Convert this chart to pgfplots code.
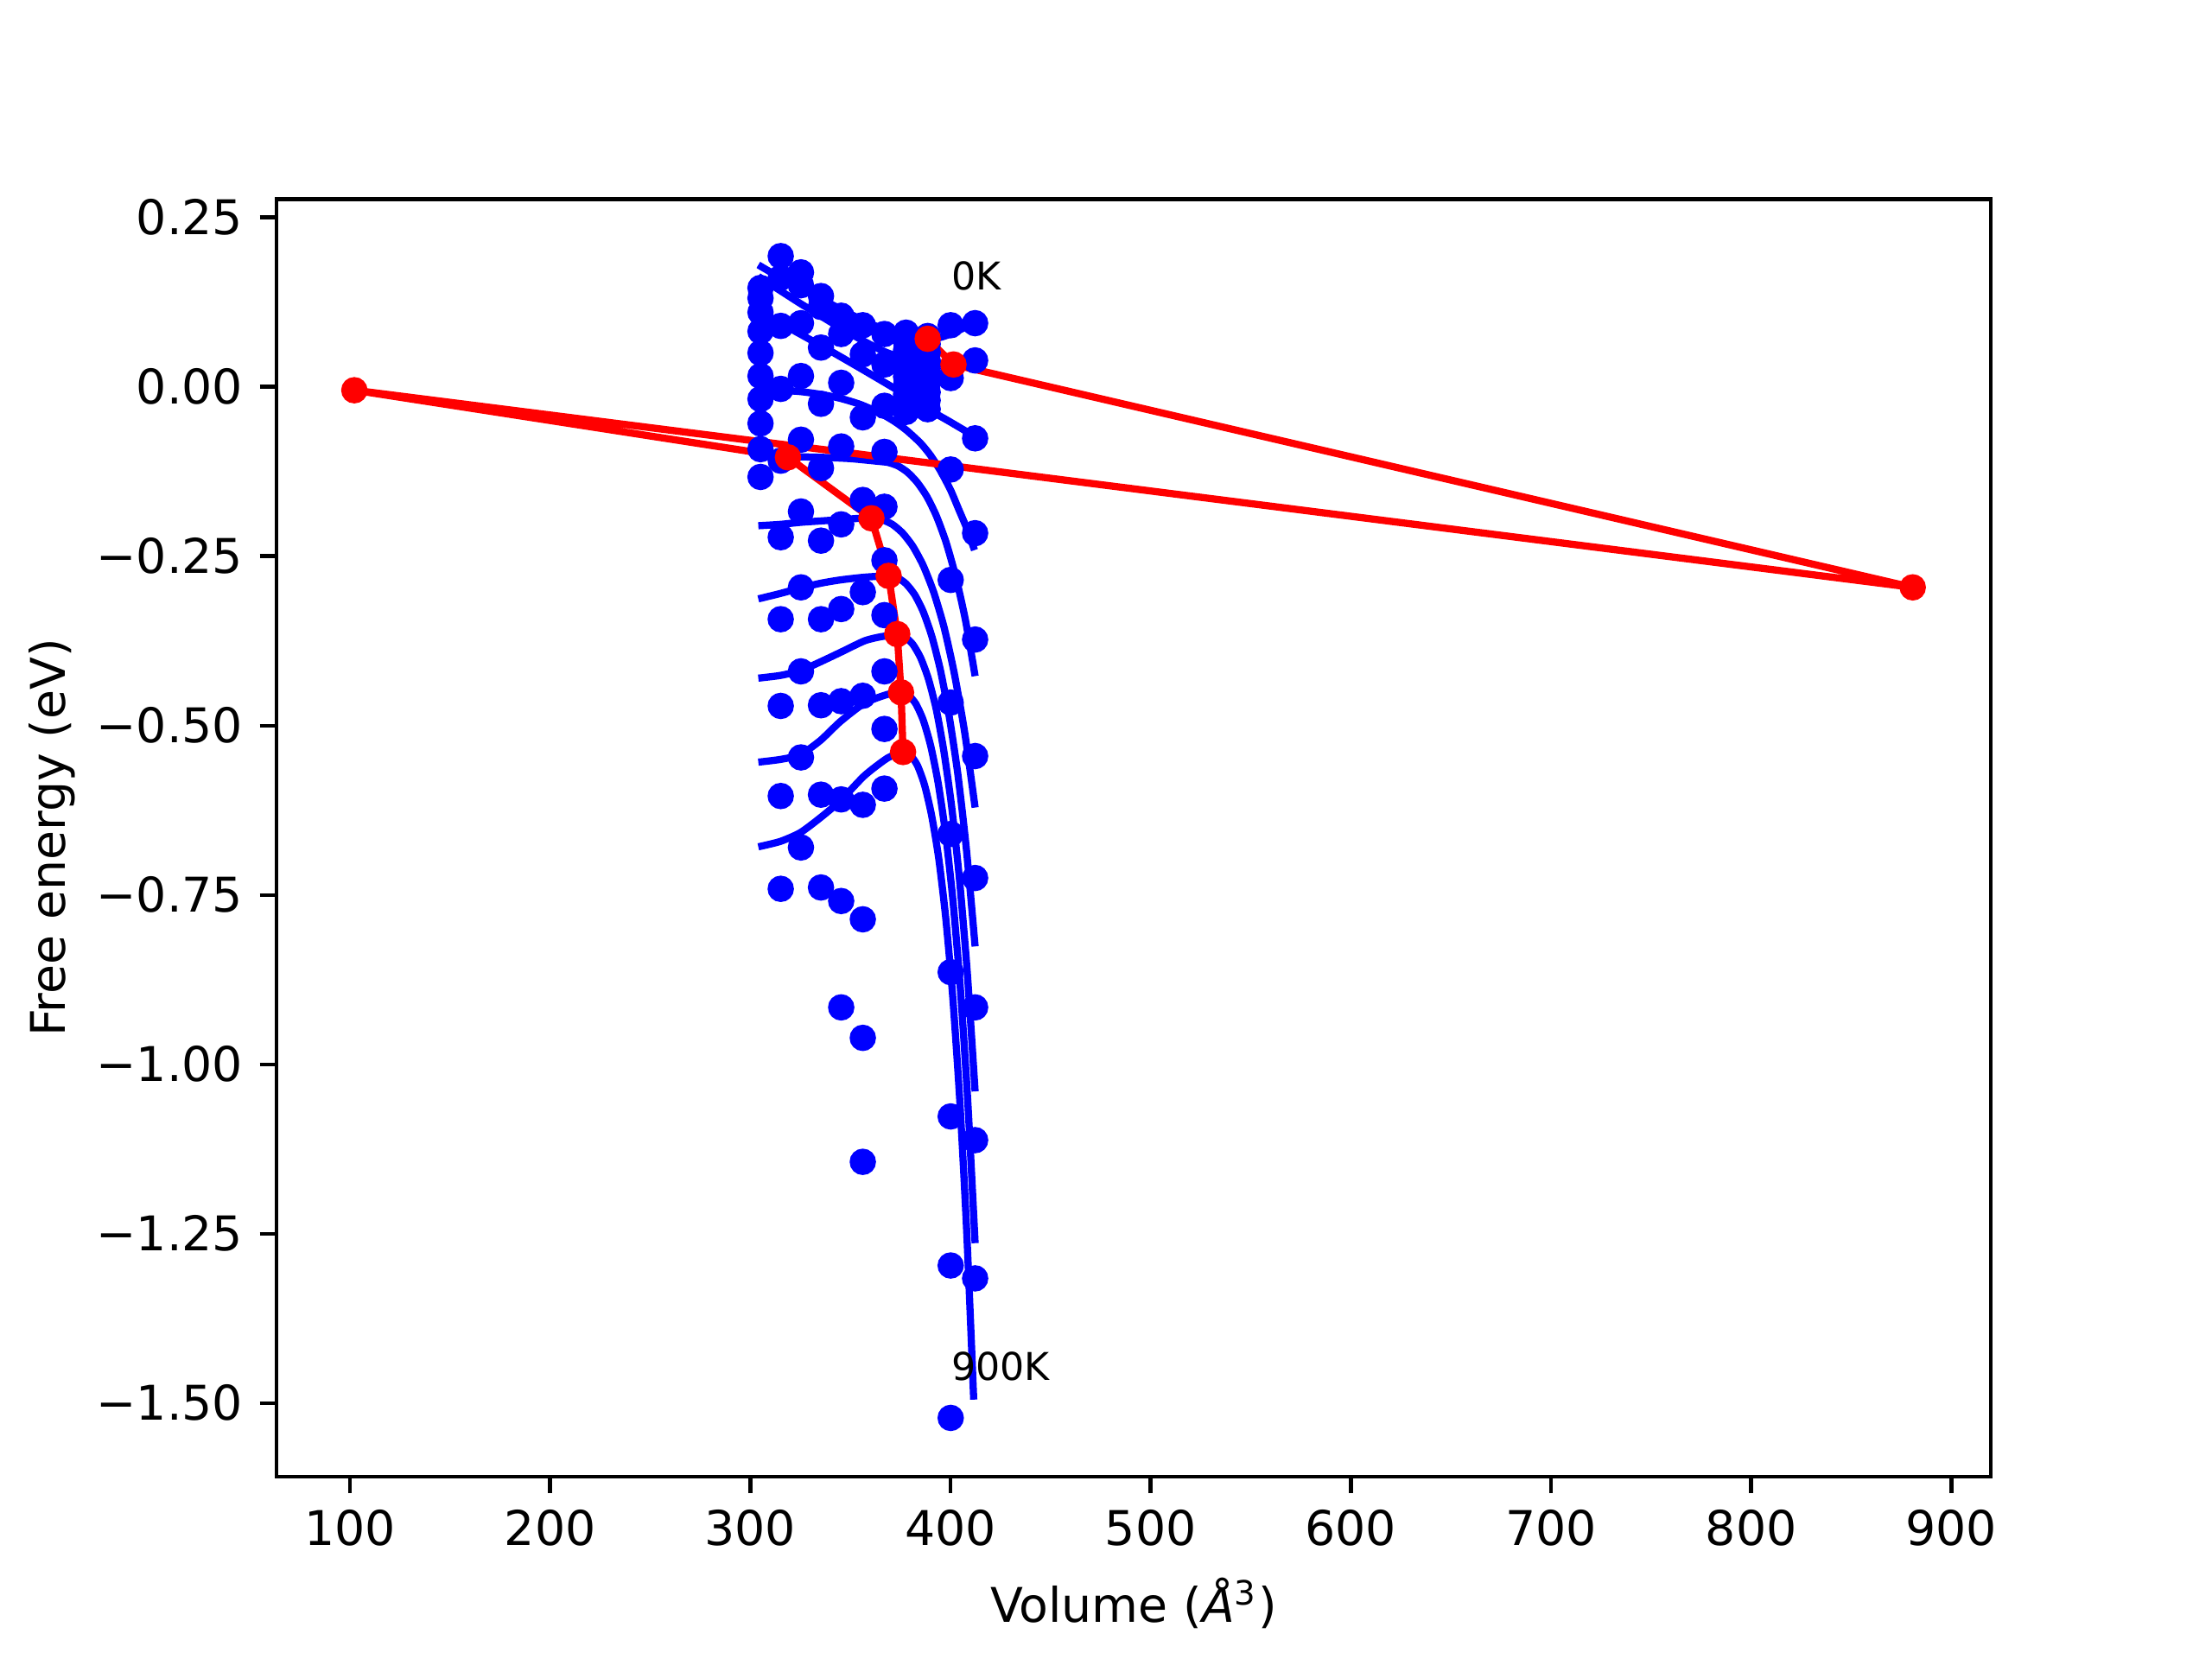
\documentclass[border=0pt]{standalone}
\usepackage{fontspec}
\setmainfont{DejaVu Sans}
\usepackage{pgfplots}
\pgfplotsset{compat=1.18}
\begin{document}
\begin{tikzpicture}
\path[use as bounding box] (-0.8in,-0.528in) rectangle (5.6in,4.272in);
\begin{axis}[
  at={(0,0)}, anchor=south west,
  scale only axis, width=4.96in, height=3.696in,
  xmin=63.3, xmax=919.7, ymin=-1.6085, ymax=0.2772,
  axis line style={line width=0.8pt},
  tick align=outside, major tick length=3.5pt,
  every tick/.style={black, line width=0.8pt},
  xtick pos=bottom, ytick pos=left,
  xtick={100,200,300,400,500,600,700,800,900},
  xticklabels={100,200,300,400,500,600,700,800,900},
  ytick={-1.5,-1.25,-1,-0.75,-0.5,-0.25,0,0.25},
  yticklabels={−1.50,−1.25,−1.00,−0.75,−0.50,−0.25,0.00,0.25},
  xlabel={Volume (\textit{Å}\textsuperscript{3})},
  ylabel={Free energy (eV)},
  xlabel style={at={(axis description cs:0.5,-0.099)}, anchor=center},
  ylabel style={at={(axis description cs:-0.1308,0.5)}, anchor=center},
  every axis plot/.append style={line width=1.5pt},
  blueline/.style={blue, no marks, smooth, tension=0.4},
]
% raw free energies, 10 temperatures per volume
\addplot[blue, only marks, mark=*, mark size=2pt] coordinates {
(305.1,0.146) (305.1,0.131) (305.1,0.110) (305.1,0.082) (305.1,0.050) (305.1,0.016) (305.1,-0.018) (305.1,-0.054) (305.1,-0.092) (305.1,-0.133)
(315.2,0.193) (315.2,0.161) (315.2,0.090) (315.2,-0.003) (315.2,-0.109) (315.2,-0.222) (315.2,-0.343) (315.2,-0.471) (315.2,-0.604) (315.2,-0.741)
(325.3,0.169) (325.3,0.150) (325.3,0.094) (325.3,0.016) (325.3,-0.078) (325.3,-0.184) (325.3,-0.296) (325.3,-0.420) (325.3,-0.547) (325.3,-0.680)
(335.3,0.134) (335.3,0.118) (335.3,0.058) (335.3,-0.025) (335.3,-0.120) (335.3,-0.227) (335.3,-0.343) (335.3,-0.470) (335.3,-0.602) (335.3,-0.739)
(345.4,0.105) (345.4,0.078) (345.4,0.006) (345.4,-0.088) (345.4,-0.203) (345.4,-0.328) (345.4,-0.464) (345.4,-0.609) (345.4,-0.759) (345.4,-0.916)
(356.2,0.091) (356.2,0.048) (356.2,-0.045) (356.2,-0.167) (356.2,-0.303) (356.2,-0.456) (356.2,-0.617) (356.2,-0.786) (356.2,-0.961) (356.2,-1.144)
(367.0,0.078) (367.0,0.033) (367.0,-0.028) (367.0,-0.096) (367.0,-0.177) (367.0,-0.256) (367.0,-0.337) (367.0,-0.420) (367.0,-0.505) (367.0,-0.593)
(377.8,0.080) (377.8,0.067) (377.8,0.054) (377.8,0.041) (377.8,0.028) (377.8,0.015) (377.8,0.002) (377.8,-0.011) (377.8,-0.024) (377.8,-0.037)
(388.6,0.075) (388.6,0.063) (388.6,0.051) (388.6,0.039) (388.6,0.027) (388.6,0.016) (388.6,0.005) (388.6,-0.008) (388.6,-0.020) (388.6,-0.033)
(400.1,0.091) (400.1,0.013) (400.1,-0.122) (400.1,-0.285) (400.1,-0.466) (400.1,-0.660) (400.1,-0.864) (400.1,-1.077) (400.1,-1.297) (400.1,-1.522)
(412.3,0.094) (412.3,0.039) (412.3,-0.076) (412.3,-0.216) (412.3,-0.373) (412.3,-0.545) (412.3,-0.725) (412.3,-0.916) (412.3,-1.112) (412.3,-1.316)
};
% fitted curves, 0K ... 900K
\addplot[blueline] coordinates {(304,0.180) (315,0.161) (325,0.145) (335,0.130) (345,0.115) (357,0.097) (367,0.085) (378,0.076) (389,0.071) (395,0.073) (400,0.078) (406,0.086) (412,0.095)};
\addplot[blueline] coordinates {(304,0.163) (315,0.142) (325,0.123) (335,0.105) (345,0.087) (357,0.067) (367,0.052) (378,0.041) (390,0.035) (401,0.033) (406,0.034) (412,0.037)};
\addplot[blueline] coordinates {(304,0.112) (320,0.086) (340,0.053) (357,0.024) (373,-0.004) (390,-0.035) (400,-0.052) (412,-0.073)};
\addplot[blueline] coordinates {(304,-0.003) (315,-0.005) (325,-0.007) (335,-0.011) (345,-0.017) (355,-0.026) (365,-0.039) (372,-0.051) (378,-0.064) (385,-0.083) (390,-0.101) (395,-0.124) (400,-0.152) (404,-0.180) (408,-0.208) (412,-0.241)};
\addplot[blueline] coordinates {(304,-0.103) (319,-0.103) (335,-0.104) (350,-0.106) (364,-0.110) (368.8,-0.1116) (373.7,-0.1166) (378.5,-0.126) (383.3,-0.1407) (388.2,-0.1619) (393.0,-0.1909) (397.8,-0.2295) (402.6,-0.2799) (407.5,-0.3447) (412.3,-0.427)};
\addplot[blueline] coordinates {(304,-0.205) (315,-0.203) (325,-0.200) (335,-0.198) (345,-0.196) (355,-0.194) (360.5,-0.194) (365.7,-0.1961) (370.9,-0.2029) (376.0,-0.2156) (381.2,-0.2354) (386.4,-0.2639) (391.6,-0.303) (396.8,-0.355) (401.9,-0.4229) (407.1,-0.5102) (412.3,-0.621)};
\addplot[blueline] coordinates {(304,-0.313) (315,-0.305) (325,-0.297) (335,-0.290) (345,-0.285) (357,-0.281) (369.1,-0.279) (373.4,-0.2817) (377.7,-0.2904) (382.1,-0.3067) (386.4,-0.332) (390.7,-0.3685) (395.0,-0.4186) (399.3,-0.4853) (403.7,-0.5723) (408.0,-0.684) (412.3,-0.826)};
\addplot[blueline] coordinates {(304,-0.430) (315,-0.426) (325,-0.419) (335,-0.406) (345,-0.392) (357,-0.375) (365,-0.369) (373.4,-0.366) (377.3,-0.3693) (381.2,-0.3801) (385.1,-0.4001) (389.0,-0.4313) (392.9,-0.4763) (396.7,-0.538) (400.6,-0.6202) (404.5,-0.7273) (408.4,-0.865) (412.3,-1.040)};
\addplot[blueline] coordinates {(304,-0.554) (315,-0.550) (325,-0.543) (335,-0.522) (345,-0.494) (357,-0.467) (368.5,-0.454) (375.3,-0.451) (379.0,-0.455) (382.7,-0.468) (386.4,-0.4921) (390.1,-0.5298) (393.8,-0.5841) (397.5,-0.6585) (401.2,-0.7576) (404.9,-0.8869) (408.6,-1.053) (412.3,-1.264)};
\addplot[blueline] coordinates {(304,-0.679) (315,-0.671) (325,-0.658) (335,-0.636) (345,-0.611) (357,-0.574) (368.5,-0.548) (376.5,-0.539) (380.0,-0.5437) (383.5,-0.559) (387.0,-0.5874) (390.5,-0.6316) (394.1,-0.6955) (397.6,-0.783) (401.1,-0.8995) (404.6,-1.0515) (408.1,-1.2468) (411.6,-1.495)};
% minima path
\addplot[red, mark=*, mark size=2pt] coordinates {
(388.6,0.071) (401.5,0.033) (880.7,-0.296) (102.2,-0.005) (318.8,-0.104) (360.5,-0.194) (369.1,-0.279) (373.4,-0.365) (375.3,-0.451) (376.3,-0.539)
};
\node[anchor=base west, inner sep=0pt, font=\fontsize{8}{9.6}\selectfont] at (axis cs:400.1,0.1436) {0K};
\node[anchor=base west, inner sep=0pt, font=\fontsize{8}{9.6}\selectfont] at (axis cs:400.1,-1.466) {900K};
\end{axis}
\end{tikzpicture}
\end{document}
